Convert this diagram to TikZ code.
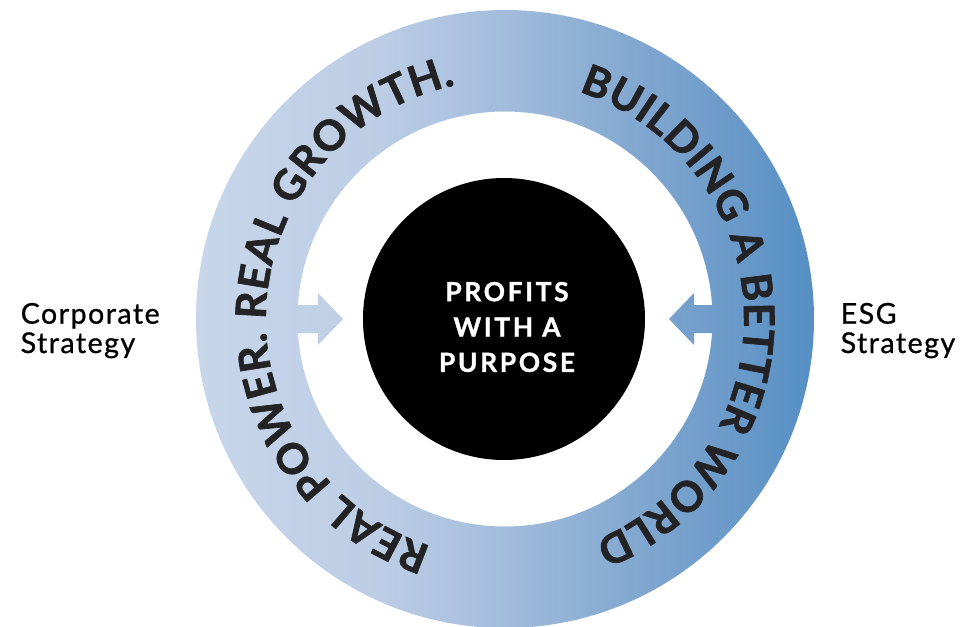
\documentclass[tikz,border=0pt]{standalone}
\usepackage{fontspec}
\setmainfont{Lato}
\newfontfamily\ringfont{Lato}[LetterSpace=2, BoldFeatures={FakeBold=1.6}]
\newfontfamily\hubfont{Lato}[LetterSpace=10, BoldFeatures={FakeBold=1.2}]
\newfontfamily\sidefont{Lato}[LetterSpace=5, FakeBold=0.8]
\usetikzlibrary{positioning, decorations.text}

\definecolor{ringlight}{RGB}{200,214,234}
\definecolor{ringpale}{RGB}{188,205,229}
\definecolor{ringmid}{RGB}{162,188,220}
\definecolor{ringdeep}{RGB}{124,164,206}
\definecolor{ringdark}{RGB}{86,143,196}
\definecolor{ringtext}{RGB}{35,35,38}

% left to right fade of the ring, mapped onto 25bp..75bp
\pgfdeclarehorizontalshading{ringfade}{100bp}{color(0bp)=(ringlight); color(25bp)=(ringlight); color(40bp)=(ringpale); color(50bp)=(ringmid); color(62.5bp)=(ringdeep); color(75bp)=(ringdark); color(100bp)=(ringdark)}

\begin{document}
\begin{tikzpicture}
    [
        x=0.75pt, y=0.75pt,
        hub_node/.style={circle, fill=black, minimum size=211.5pt, inner sep=0pt},
        hub_text/.style={text=white, font=\hubfont\bfseries\fontsize{19.8}{26.5}\selectfont, align=center},
        side_text/.style={text=black, font=\sidefont\fontsize{21.5}{22}\selectfont, align=left, anchor=base west},
        ring_text/.style={decorate, decoration={text along path, text align=fit to path, text color=ringtext, text={|\ringfont\bfseries\fontsize{31.5}{31.5}\selectfont|#1}}},
    ]
        \useasboundingbox (-505,-307) rectangle (465,319);

        % ring with the two arrows, one shaded path
        \shade[shading=ringfade]
            (309,0) arc[start angle=0, end angle=360, radius=309]
            (207.5,0) arc[start angle=0, end angle=-360, radius=207.5]
            (-215,-14) -- (-187,-14) -- (-187,-26) -- (-162,0) -- (-187,26) -- (-187,14) -- (-215,14) -- cycle
            (164,0) -- (189,-26) -- (189,-14) -- (215,-14) -- (215,14) -- (189,14) -- (189,26) -- cycle;

        \path[ring_text={REAL POWER. REAL GROWTH.}] (252:239) arc[start angle=252, end angle=102, radius=239];
        \path[ring_text={BUILDING A BETTER WORLD}] (72:239) arc[start angle=72, end angle=-68, radius=239];

        \node[hub_node] (hub) at (-1,0) {};
        \node[hub_text] (hubtext) at (2,-8) {PROFITS\\WITH A\\PURPOSE};

        % base anchor sits on the second line
        \node[side_text] (corp) at (-489,-34) {Corporate\\Strategy};
        \node[side_text] (esg) at (331,-34) {ESG\\Strategy};
    \end{tikzpicture}
\end{document}
